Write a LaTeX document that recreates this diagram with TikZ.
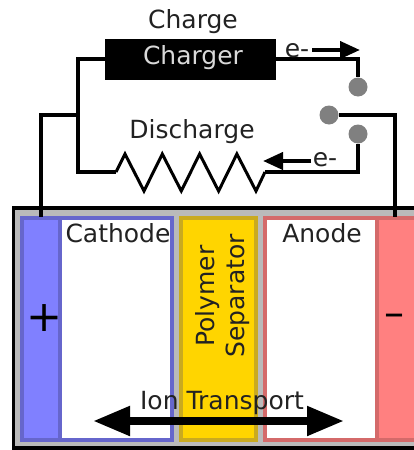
\documentclass[tikz,border=0pt]{standalone}
\usepackage{fontspec}
\setmainfont{DejaVu Sans}
\usepackage{xcolor}
\usetikzlibrary{arrows.meta}
\definecolor{bldark}{HTML}{6666CC}
\definecolor{blfill}{HTML}{8080FF}
\definecolor{rddark}{HTML}{D46A6A}
\definecolor{rdfill}{HTML}{FF8080}
\definecolor{ysep}{HTML}{FFD500}
\definecolor{ydark}{HTML}{C9AA20}
\definecolor{inkgrey}{HTML}{222222}

\begin{document}
\begin{tikzpicture}[
  x=1pt, y=-1pt,
  wire/.style={draw=black, line width=3.6pt, line join=miter},
  lbl/.style={font=\fontsize{25}{29}\selectfont\color{inkgrey}, inner sep=0pt},
  contact/.style={circle, fill=black!50, minimum size=19pt, inner sep=0pt},
  collblue/.style={draw=bldark, fill=blfill, line width=3.5pt},
  collred/.style={draw=rddark, fill=rdfill, line width=3.5pt},
  epath/.style={draw=black, line width=4pt, -{Triangle[length=20pt,width=17pt]}},
]
\useasboundingbox (0,0) rectangle (414,450);
\clip (0,0) rectangle (414,450);
% cell casing
\draw[black, line width=3.6pt, fill=black!27] (13.5,208) rectangle (430,448);
% electrodes and separator
\draw[collblue] (22,218) rectangle (60,440);
\draw[draw=bldark, fill=white, line width=3.5pt] (60,218) rectangle (172,440);
\draw[draw=ydark, fill=ysep, line width=3.5pt] (181,218) rectangle (256,440);
\draw[draw=rddark, fill=white, line width=3.5pt] (265,218) rectangle (377,440);
\draw[collred] (377,218) rectangle (430,440);
% charger and switch
\node[fill=black, minimum width=171pt, minimum height=41pt, inner sep=0pt] (charger) at (190.5,59.5) {};
\node[lbl, white!85!black] (chargertxt) at (193,57.5) {Charger};
\node[contact] (swtop) at (358,87) {};
\node[contact] (swmid) at (329,115) {};
\node[contact] (swbot) at (358,134) {};
\coordinate (tabplus) at (41,217);
\coordinate (tabminus) at (395,217);
\coordinate (resl) at (116,172);
\coordinate (resr) at (265,172);
% wires
\draw[wire] (charger.east |- 0,59) -| (swtop);
\draw[wire] (swbot) |- (resr);
\draw[wire] (swmid) -| (tabminus);
\draw[wire] (charger.west |- 0,59) -| (78,172) -- (resl);
\draw[wire] (78,115) -| (tabplus);
\draw[black, line width=3pt] (resl) -- (125,154)
  \foreach \i in {0,1,2} { -- (144+37.3*\i,191) -- (162.3+37.3*\i,154) }
  -- (256,191) -- (resr);
% electron flow
\coordinate (efrom) at (312,50);
\coordinate (eto) at (360,50);
\coordinate (dfrom) at (311,161);
\coordinate (dto) at (263,161);
\draw[epath] (efrom) -- (eto);
\draw[epath] (dfrom) -- (dto);
\node[lbl] (etop) at (297,50.5) {e-};
\node[lbl] (ebot) at (325,160) {e-};
\node[lbl] (chargelbl) at (193,22) {Charge};
\node[lbl] (dischargelbl) at (192,132) {Discharge};
% cell labels
\node[lbl] (cathode) at (118,233) {Cathode};
\node[lbl] (anode) at (322,233) {Anode};
\node[lbl, rotate=90, align=center, font=\fontsize{25}{30}\selectfont\color{inkgrey}] (separator) at (222.5,296) {Polymer\\Separator};
\node[lbl, font=\fontsize{43}{46}\selectfont\color{black}] (plus) at (45,318) {+};
\node[lbl, font=\fontsize{40}{44}\selectfont\color{black}] (minus) at (394,320) {--};
\node[lbl] (iontxt) at (222,403) {Ion Transport};
% ion transport arrow
\coordinate (ionl) at (93,421);
\coordinate (ionr) at (344,421);
\draw[black, line width=8pt, {Triangle[length=37pt,width=28pt]}-{Triangle[length=37pt,width=28pt]}] (ionl) -- (ionr);
\end{tikzpicture}
\end{document}
